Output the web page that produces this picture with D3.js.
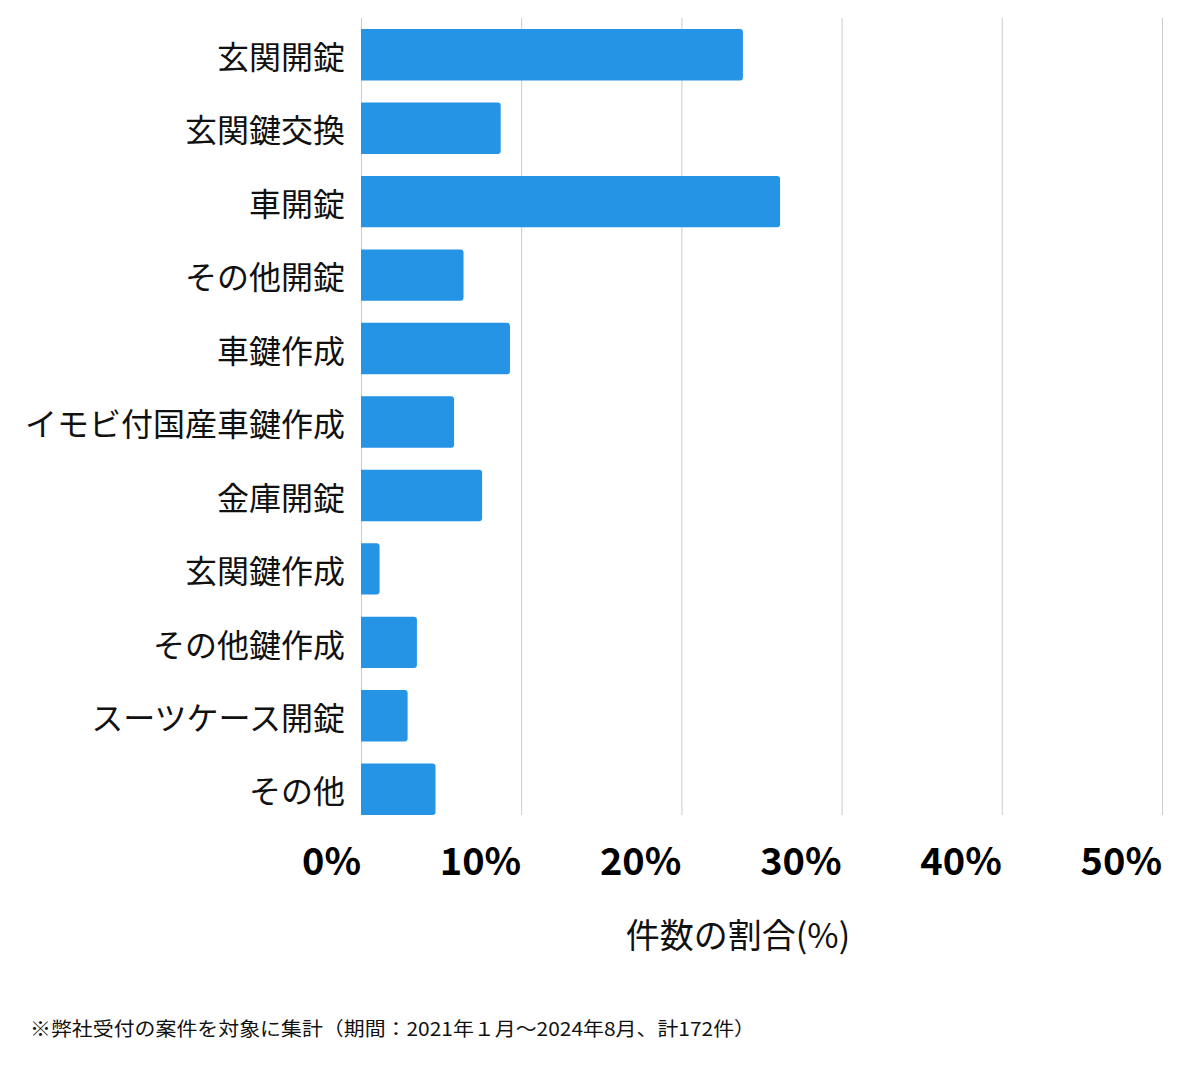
<!DOCTYPE html>
<html>
<head>
<meta charset="utf-8">
<script src="https://cdn.jsdelivr.net/npm/d3@7"></script>
<style>
  body { margin: 0; background: #fff; }
  text { font-family: "Noto Sans CJK JP", "Noto Sans", sans-serif; }
</style>
</head>
<body>
<div id="chartSpace"></div>
<script>
// categories and shares (% of 172 cases)
const categories = ["玄関開錠", "玄関鍵交換", "車開錠", "その他開錠", "車鍵作成", "イモビ付国産車鍵作成", "金庫開錠", "玄関鍵作成", "その他鍵作成", "スーツケース開錠", "その他"]
const shares = [23.84, 8.72, 26.16, 6.40, 9.30, 5.81, 7.56, 1.16, 3.49, 2.91, 4.65]
const ticks = [0, 10, 20, 30, 40, 50]
const axisTitle = "件数の割合(%)"
const note = "※弊社受付の案件を対象に集計（期間：2021年１月〜2024年8月、計172件）"

let width = 1200
let height = 1069
let plotLeft = 361
let plotRight = 1162
let plotTop = 18
let plotBottom = 815

let svg = d3.select("#chartSpace")
  .append("svg")
  .attr("width", width)
  .attr("height", height)

let x = d3.scaleLinear().domain([0, 50]).range([plotLeft, plotRight])
let y = d3.scaleBand().domain(categories).range([plotTop, 826]).paddingInner(0.3).paddingOuter(0.15)

// gridlines
svg.append("g")
  .selectAll("line")
  .data(ticks)
  .enter().append("line")
  .attr("x1", d => x(d) + 0.5)
  .attr("x2", d => x(d) + 0.5)
  .attr("y1", plotTop)
  .attr("y2", plotBottom)
  .style("stroke", "#cccccc")
  .style("stroke-width", 1)

// bars, right corners rounded
let data = categories.map((c, i) => ({name: c, value: shares[i]}))
svg.append("g")
  .selectAll("path")
  .data(data)
  .enter().append("path")
  .attr("d", function(d) {
    let x0 = x(0), x1 = x(d.value), y0 = y(d.name), h = y.bandwidth(), r = 3
    return "M" + x0 + "," + y0 + "H" + (x1 - r) + "Q" + x1 + "," + y0 + " " + x1 + "," + (y0 + r) +
      "V" + (y0 + h - r) + "Q" + x1 + "," + (y0 + h) + " " + (x1 - r) + "," + (y0 + h) + "H" + x0 + "Z"
  })
  .style("fill", "#2594e5")

// category labels
svg.append("g")
  .selectAll("text")
  .data(categories)
  .enter().append("text")
  .attr("x", 345)
  .attr("y", d => y(d) + y.bandwidth() / 2 + 2)
  .attr("dy", "0.38em")
  .style("text-anchor", "end")
  .style("font-size", "32px")
  .style("fill", "#111")
  .text(d => d)

// x tick labels
svg.append("g")
  .selectAll("text")
  .data(ticks)
  .enter().append("text")
  .attr("x", d => x(d))
  .attr("y", 875)
  .style("text-anchor", "end")
  .style("font-size", "38px")
  .style("font-weight", "bold")
  .style("fill", "#000")
  .text(d => d + "%")

svg.append("text")
  .attr("x", 738)
  .attr("y", 948)
  .style("text-anchor", "middle")
  .style("font-size", "34px")
  .style("fill", "#111")
  .text(axisTitle)

svg.append("text")
  .attr("x", 30)
  .attr("y", 1036)
  .attr("textLength", 725)
  .attr("lengthAdjust", "spacingAndGlyphs")
  .style("font-size", "19px")
  .style("fill", "#111")
  .text(note)
</script>
</body>
</html>
